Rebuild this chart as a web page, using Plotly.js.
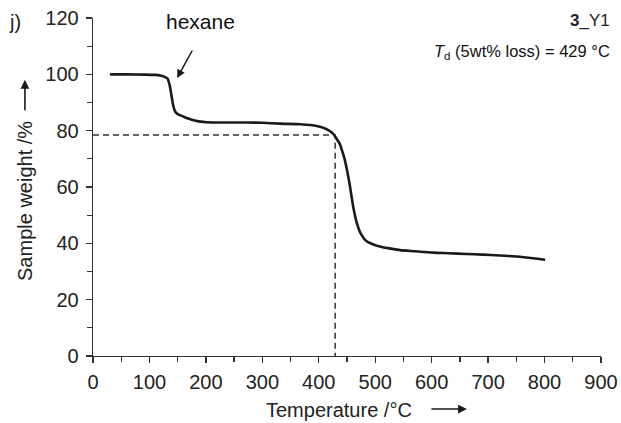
<!DOCTYPE html>
<html>
<head>
<meta charset="utf-8">
<script src="https://cdn.plot.ly/plotly-3.0.1.min.js"></script>
<style>
  html, body { margin: 0; padding: 0; background: #fff; }
  #chart { width: 621px; height: 423px; }
</style>
</head>
<body>
<div id="chart"></div>
<script>
// TGA curve: sample weight vs temperature
const temperature = [30, 60, 90, 110, 119, 126, 132, 136, 139, 142, 145, 148, 154, 160, 170, 180, 190, 201, 230, 272, 300, 331, 367, 385, 402, 412, 420, 426, 432, 437, 441, 445, 450, 455, 461, 467, 472, 476, 482, 488, 498, 508, 525, 544, 570, 603, 630, 662, 690, 721, 750, 780, 801];
const weight = [100.0, 100.0, 99.9, 99.8, 99.6, 99.2, 98.5, 96.0, 92.5, 89.0, 87.0, 86.2, 85.5, 85.0, 84.2, 83.6, 83.2, 83.0, 82.9, 82.9, 82.8, 82.5, 82.3, 82.0, 81.4, 80.7, 79.8, 78.8, 77.0, 75.4, 73.1, 70.5, 66.0, 60.5, 53.0, 47.5, 44.5, 42.9, 41.2, 40.3, 39.5, 38.9, 38.2, 37.6, 37.2, 36.7, 36.5, 36.2, 36.0, 35.7, 35.3, 34.7, 34.2];

// 5 wt% loss marker
const tdTemp = 429;
const tdWeight = 78.5;
const guideX = [0, tdTemp, tdTemp];
const guideY = [tdWeight, tdWeight, 0];

// hexane loss step
const hexaneX = 149;
const hexaneY = 98.7;

const xTicks = [0, 100, 200, 300, 400, 500, 600, 700, 800, 900];
const yTicks = [0, 20, 40, 60, 80, 100, 120];

const ink = '#1a1a1a';
const axisInk = '#333333';
const font = 'Liberation Sans, Arial, sans-serif';
const titleFont = { size: 20, color: '#222', family: font };

const traces = [
  {
    x: guideX, y: guideY, type: 'scatter', mode: 'lines',
    line: { color: '#333', width: 1.5, dash: '6px,4px' },
    hoverinfo: 'skip', showlegend: false
  },
  {
    x: temperature, y: weight, type: 'scatter', mode: 'lines',
    line: { color: ink, width: 2.6, shape: 'spline', smoothing: 0.6 },
    showlegend: false
  }
];

const layout = {
  width: 621, height: 423,
  margin: { l: 93, r: 20, t: 18, b: 67 },
  paper_bgcolor: '#fff', plot_bgcolor: '#fff',
  font: { family: font, color: '#222', size: 20 },
  xaxis: {
    range: [0, 900], tickvals: xTicks, ticktext: xTicks.map(String),
    showgrid: false, zeroline: false,
    showline: true, linecolor: axisInk, linewidth: 1.3,
    ticks: 'outside', ticklen: 6, tickwidth: 1.3, tickcolor: axisInk,
    minor: { dtick: 50, tick0: 0, ticks: 'outside', ticklen: 5, tickwidth: 1.3, tickcolor: axisInk },
    tickfont: { size: 20, color: '#222', family: font },
    ticklabelstandoff: 2,
    fixedrange: true
  },
  yaxis: {
    range: [0, 120], tickvals: yTicks, ticktext: yTicks.map(String),
    showgrid: false, zeroline: false,
    showline: true, linecolor: axisInk, linewidth: 1.3,
    ticks: 'outside', ticklen: 6, tickwidth: 1.3, tickcolor: axisInk,
    minor: { dtick: 10, tick0: 0, ticks: 'outside', ticklen: 5, tickwidth: 1.3, tickcolor: axisInk },
    tickfont: { size: 20, color: '#222', family: font },
    ticklabelstandoff: 3,
    fixedrange: true
  },
  annotations: [
    // axis titles, each followed by a direction arrow
    { xref: 'paper', yref: 'paper', x: 0.4843, y: -0.1598, text: 'Temperature /°C', showarrow: false,
      xanchor: 'center', yanchor: 'middle', font: titleFont },
    { xref: 'paper', yref: 'paper', x: 0.736, y: -0.157, text: '', showarrow: true,
      ax: -37, ay: 0, arrowhead: 2, arrowsize: 1.1, arrowwidth: 1.6, arrowcolor: ink },
    { xref: 'paper', yref: 'paper', x: -0.1339, y: 0.4586, text: 'Sample weight /%', showarrow: false,
      textangle: -90, xanchor: 'center', yanchor: 'middle', font: titleFont },
    { xref: 'paper', yref: 'paper', x: -0.134, y: 0.817, text: '', showarrow: true,
      ax: 0, ay: 32, arrowhead: 2, arrowsize: 1.1, arrowwidth: 1.6, arrowcolor: ink },

    { xref: 'paper', yref: 'paper', x: -0.169, y: 0.988, text: 'j)', showarrow: false,
      xanchor: 'left', yanchor: 'middle', font: { size: 20, color: '#222', family: font } },
    { xref: 'x', yref: 'y', x: hexaneX, y: hexaneY, text: '', showarrow: true,
      ax: 16, ay: -29, arrowhead: 2, arrowsize: 1.1, arrowwidth: 1.5, arrowcolor: ink },
    { xref: 'x', yref: 'y', x: 190, y: 118.6, text: 'hexane', showarrow: false,
      xanchor: 'center', yanchor: 'middle', font: { size: 21, color: '#111', family: font } },
    { xref: 'paper', yref: 'paper', x: 1.022, y: 0.994, text: '<b>3</b>_Y1', showarrow: false,
      xanchor: 'right', yanchor: 'middle', font: { size: 17, color: '#222', family: font } },
    { xref: 'paper', yref: 'paper', x: 1.022, y: 0.899,
      text: '<i>T</i><sub>d</sub> (5wt% loss) = ' + tdTemp + ' °C', showarrow: false,
      xanchor: 'right', yanchor: 'middle', font: { size: 16.5, color: '#111', family: font } }
  ]
};

Plotly.newPlot('chart', traces, layout, { displayModeBar: false, staticPlot: true });
</script>
</body>
</html>
